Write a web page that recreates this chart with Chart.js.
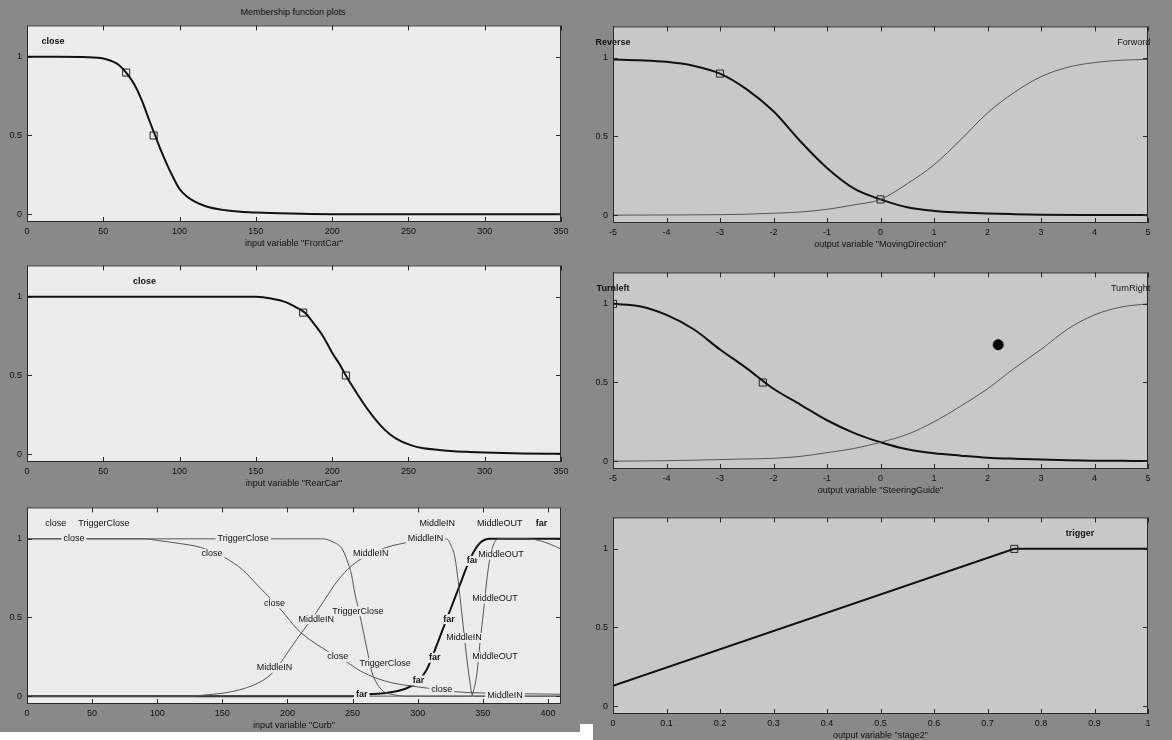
<!DOCTYPE html>
<html>
<head>
<meta charset="utf-8">
<title>Membership function plots</title>
<script src="https://cdn.jsdelivr.net/npm/chart.js@4.4.0/dist/chart.umd.min.js"></script>
<style>
  body { margin: 0; background: #fff; }
  #page { position: relative; width: 1172px; height: 740px; background: #898989; overflow: hidden;
          font-family: "Liberation Sans", Arial, sans-serif; }
  #page canvas { position: absolute; }
  .white { position: absolute; background: #fff; }
  .letter { position: absolute; width: 17px; height: 19px; background: #fff; color: #000; text-align: center;
            font: bold 20px "Liberation Serif", "Times New Roman", serif; line-height: 20px; }
  #title { position: absolute; left: 0; top: 7px; width: 586px; text-align: center; font-size: 9px; color: #111; }
</style>
</head>
<body>
<div id="page">
  <div class="white" style="left:0;top:732px;width:593px;height:8px"></div>
  <div class="white" style="left:580px;top:724px;width:13px;height:16px"></div>
  <div id="title">Membership function plots</div>
  <div class="letter" style="left:502px;top:112px">A</div>
  <div class="letter" style="left:510px;top:357px">B</div>
  <div class="letter" style="left:519px;top:601px">C</div>
  <div class="letter" style="left:1063px;top:119px">D</div>
  <div class="letter" style="left:1070px;top:367px">E</div>
  <div class="letter" style="left:1072px;top:610px">F</div>
</div>
<script>
// values

const yTicks = [0, 0.5, 1];

// A - input "FrontCar"
const carTicks = [0, 50, 100, 150, 200, 250, 300, 350];
const frontX = [0, 20, 40, 50, 55, 60, 65, 70, 75, 80, 84, 88, 92, 96, 100, 105, 110, 115, 120, 130, 140, 150, 165, 180, 200, 250, 300, 350];
const frontClose = [1, 1, 0.998, 0.99, 0.975, 0.95, 0.9, 0.83, 0.73, 0.6, 0.5, 0.4, 0.31, 0.23, 0.16, 0.11, 0.08, 0.058, 0.042, 0.025, 0.015, 0.01, 0.005, 0.002, 0, 0, 0, 0];
const frontMarkX = [65, 83];
const frontMarkY = [0.9, 0.5];

// B - input "RearCar"
const rearX = [0, 20, 50, 100, 140, 150, 160, 170, 176, 182, 188, 194, 200, 205, 209, 214, 220, 226, 232, 238, 245, 252, 260, 270, 280, 290, 300, 325, 350];
const rearClose = [1, 1, 1, 1, 1, 1, 0.99, 0.965, 0.935, 0.9, 0.83, 0.75, 0.645, 0.57, 0.5, 0.42, 0.33, 0.25, 0.18, 0.125, 0.083, 0.056, 0.037, 0.027, 0.019, 0.014, 0.01, 0.004, 0.002];
const rearMarkX = [181, 209];
const rearMarkY = [0.9, 0.5];

// C - input "Curb"
const curbTicks = [0, 50, 100, 150, 200, 250, 300, 350, 400];
const curbCloseX = [0, 90, 100, 115, 133, 152, 166, 176, 187, 196, 207, 217, 228, 238, 243, 256, 268, 281, 297, 318, 330, 350, 380, 410];
const curbCloseY = [1, 1, 0.99, 0.973, 0.946, 0.88, 0.8, 0.714, 0.62, 0.54, 0.43, 0.36, 0.3, 0.25, 0.23, 0.16, 0.115, 0.083, 0.062, 0.04, 0.027, 0.02, 0.015, 0.012];
const curbTrigX = [0, 200, 227, 235, 241.6, 245.5, 249.3, 251.8, 254.4, 257.5, 259.5, 262, 264.7, 268.5, 273.6, 281, 291.5, 410];
const curbTrigY = [1, 1, 1, 0.98, 0.94, 0.87, 0.766, 0.65, 0.56, 0.44, 0.36, 0.26, 0.155, 0.083, 0.031, 0.01, 0, 0];
const curbMidInX = [0, 129, 133, 158, 179, 190, 197, 207, 215, 222, 233, 240, 248, 256, 264, 276, 286, 297, 307, 322, 326, 328.6, 331, 333.8, 335.5, 338, 340, 341.4, 342.5, 410];
const curbMidInY = [0, 0, 0.004, 0.03, 0.09, 0.16, 0.24, 0.36, 0.45, 0.53, 0.67, 0.75, 0.82, 0.87, 0.905, 0.946, 0.967, 0.985, 0.997, 1, 0.95, 0.88, 0.735, 0.53, 0.4, 0.217, 0.093, 0.02, 0, 0];
const curbMidOutX = [0, 341.5, 343, 345.3, 347.8, 350.4, 353, 355.5, 359.3, 363, 385, 395, 402, 410];
const curbMidOutY = [0, 0, 0.04, 0.135, 0.34, 0.53, 0.735, 0.88, 0.983, 1, 1, 0.985, 0.965, 0.935];
const curbFarX = [0, 250, 257, 276, 291.5, 300, 307, 313, 319, 326, 332.5, 338, 342.5, 348, 355.5, 410];
const curbFarY = [0, 0, 0.01, 0.02, 0.05, 0.093, 0.17, 0.29, 0.42, 0.57, 0.71, 0.83, 0.91, 0.975, 1, 1];

// D - output "MovingDirection"
const fiveTicks = [-5, -4, -3, -2, -1, 0, 1, 2, 3, 4, 5];
const revX = [-5, -4.5, -4, -3.5, -3, -2.5, -2, -1.5, -1, -0.5, 0, 0.5, 1, 1.5, 2, 2.5, 3, 4, 5];
const revY = [0.99, 0.985, 0.975, 0.95, 0.9, 0.8, 0.66, 0.47, 0.3, 0.17, 0.1, 0.05, 0.027, 0.017, 0.01, 0.006, 0.003, 0.001, 0];
const fwdX = [-5, -4, -3, -2.5, -2, -1.5, -1, -0.5, 0, 0.5, 1, 1.5, 2, 2.5, 3, 3.5, 4, 4.5, 5];
const fwdY = [0, 0.001, 0.003, 0.006, 0.012, 0.02, 0.037, 0.065, 0.1, 0.2, 0.32, 0.48, 0.65, 0.78, 0.88, 0.94, 0.97, 0.985, 0.99];
const moveMarkX = [-3, 0];
const moveMarkY = [0.9, 0.1];

// E - output "SteeringGuide"
const steerX = [-5, -4.5, -4, -3.5, -3, -2.5, -2, -1.5, -1, -0.5, 0, 0.5, 1, 1.5, 2, 2.5, 3, 3.5, 4, 4.5, 5];
const turnLeft = [1, 0.985, 0.93, 0.84, 0.71, 0.59, 0.46, 0.36, 0.26, 0.18, 0.12, 0.075, 0.05, 0.035, 0.022, 0.015, 0.01, 0.006, 0.003, 0.002, 0.001];
const turnRight = [0, 0.001, 0.003, 0.006, 0.01, 0.014, 0.018, 0.03, 0.054, 0.08, 0.12, 0.17, 0.25, 0.35, 0.46, 0.59, 0.71, 0.84, 0.93, 0.98, 1];
const steerMarkX = [-5, -2.2];
const steerMarkY = [1, 0.5];
const steerDotX = [2.2];
const steerDotY = [0.74];

// F - output "stage2"
const stageTicks = [0, 0.1, 0.2, 0.3, 0.4, 0.5, 0.6, 0.7, 0.8, 0.9, 1];
const trigX = [0, 0.75, 1];
const trigY = [0.13, 1, 1];
const trigMarkX = [0.75];
const trigMarkY = [1];

// text on the plots: [text, x, y, bold, align, boxed]
const frontLabels = [['close', 17, 1.1, true]];
const rearLabels = [['close', 77, 1.1, true]];
const moveLabels = [['Reverse', -5, 1.1, true], ['Forword', 5.04, 1.1, false, 'right']];
const steerLabels = [['Turnleft', -5, 1.1, true], ['TurnRight', 5.04, 1.1, false, 'right']];
const stageLabels = [['trigger', 0.873, 1.1, true]];
const curbLabels = [
  ['close', 22, 1.1], ['TriggerClose', 59, 1.1], ['MiddleIN', 315, 1.1], ['MiddleOUT', 363, 1.1], ['far', 395, 1.1, true],
  ['close', 36, 1.0, false, 'center', true], ['TriggerClose', 166, 1.0, false, 'center', true],
  ['close', 142, 0.905, false, 'center', true], ['MiddleIN', 264, 0.905, false, 'center', true],
  ['MiddleIN', 306, 1.0, false, 'center', true], ['close', 190, 0.59, false, 'center', true],
  ['MiddleIN', 222, 0.49, false, 'center', true], ['TriggerClose', 254, 0.54, false, 'center', true],
  ['MiddleIN', 190, 0.18, false, 'center', true], ['close', 238.5, 0.25, false, 'center', true],
  ['TriggerClose', 275, 0.21, false, 'center', true],
  ['far', 300.5, 0.1, true, 'center', true], ['far', 313, 0.244, true, 'center', true],
  ['far', 324, 0.49, true, 'center', true], ['far', 342, 0.86, true, 'center', true],
  ['far', 257, 0.01, true, 'center', true], ['close', 318.4, 0.04, false, 'center', true],
  ['MiddleIN', 367, 0.004, false, 'center', true], ['MiddleIN', 335.5, 0.37, false, 'center', true],
  ['MiddleOUT', 364, 0.9, false, 'center', true], ['MiddleOUT', 359.3, 0.62, false, 'center', true],
  ['MiddleOUT', 359.3, 0.25, false, 'center', true]
];

const FONT = '"Liberation Sans", Arial, sans-serif';
const LIGHT = '#ececec';
const DARK = '#c8c8c8';

function pts(xs, ys) {
  return xs.map((x, i) => ({ x: x, y: ys[i] }));
}

// straight = plain polyline (the trapezoid in F), otherwise smoothed
function curve(xs, ys, thick, straight) {
  const ds = {
    data: pts(xs, ys),
    borderColor: thick ? '#111' : '#555',
    borderWidth: thick ? 2 : 1,
    pointRadius: 0,
    tension: 0,
    fill: false
  };
  if (!straight) ds.cubicInterpolationMode = 'monotone';
  return ds;
}

// the little open squares / dots the mf editor puts on the curves
function marks(xs, ys, filled) {
  return {
    data: pts(xs, ys),
    showLine: false,
    pointStyle: filled ? 'circle' : 'rect',
    pointRadius: 5,
    pointBackgroundColor: filled ? '#000' : 'rgba(0,0,0,0)',
    pointBorderColor: filled ? '#000' : '#222',
    pointBorderWidth: 1
  };
}

function makePanel(p) {
  const padL = 36, padT = 6, padR = 18, padB = 28;
  const l = p.box[0], t = p.box[1], r = p.box[2], b = p.box[3];
  const cv = document.createElement('canvas');
  cv.width = r - l + padL + padR;
  cv.height = b - t + padT + padB;
  cv.style.left = (l - padL) + 'px';
  cv.style.top = (t - padT) + 'px';
  document.getElementById('page').appendChild(cv);

  const deco = {
    id: 'deco',
    beforeDraw(chart) {
      const a = chart.chartArea, ctx = chart.ctx;
      ctx.save();
      ctx.fillStyle = p.bg;
      ctx.fillRect(a.left, a.top, a.right - a.left, a.bottom - a.top);
      ctx.restore();
    },
    afterDraw(chart) {
      const a = chart.chartArea, ctx = chart.ctx;
      const xs = chart.scales.x, ys = chart.scales.y;
      ctx.save();
      ctx.textBaseline = 'middle';
      p.labels.forEach(lb => {
        const txt = lb[0];
        ctx.font = (lb[3] ? 'bold ' : '') + '9px ' + FONT;
        ctx.textAlign = lb[4] || 'center';
        const px = xs.getPixelForValue(lb[1]);
        const py = ys.getPixelForValue(lb[2]);
        if (lb[5]) {
          const w = ctx.measureText(txt).width;
          ctx.fillStyle = p.bg;
          ctx.fillRect(px - w / 2 - 2, py - 5, w + 4, 10);
        }
        ctx.fillStyle = '#111';
        ctx.fillText(txt, px, py);
      });
      // box + inward ticks, matlab style
      ctx.strokeStyle = '#2a2a2a';
      ctx.lineWidth = 1;
      ctx.strokeRect(a.left + 0.5, a.top + 0.5, a.right - a.left - 1, a.bottom - a.top - 1);
      ctx.beginPath();
      p.xTicks.forEach(v => {
        const x = Math.round(xs.getPixelForValue(v)) + 0.5;
        ctx.moveTo(x, a.top); ctx.lineTo(x, a.top + 5);
        ctx.moveTo(x, a.bottom); ctx.lineTo(x, a.bottom - 5);
      });
      yTicks.forEach(v => {
        const y = Math.round(ys.getPixelForValue(v)) + 0.5;
        ctx.moveTo(a.left, y); ctx.lineTo(a.left + 5, y);
        ctx.moveTo(a.right, y); ctx.lineTo(a.right - 5, y);
      });
      ctx.stroke();
      ctx.restore();
    }
  };

  return new Chart(cv, {
    type: 'line',
    data: { datasets: p.datasets },
    options: {
      responsive: false,
      animation: false,
      devicePixelRatio: 1,
      layout: { padding: { top: padT, right: padR, left: 0, bottom: 0 } },
      plugins: { legend: { display: false }, tooltip: { enabled: false } },
      scales: {
        x: {
          type: 'linear',
          min: p.xMin,
          max: p.xMax,
          afterBuildTicks: s => { s.ticks = p.xTicks.map(v => ({ value: v })); },
          afterFit: s => { s.height = padB; },
          grid: { display: false, drawTicks: false },
          border: { display: false },
          ticks: { autoSkip: false, maxRotation: 0, padding: 4, color: '#111',
                   font: { size: 9, family: FONT }, callback: v => String(v) },
          title: { display: true, text: p.xTitle, color: '#111', font: { size: 9, family: FONT },
                   padding: { top: 0, bottom: 1 } }
        },
        y: {
          type: 'linear',
          min: -0.05,
          max: 1.2,
          afterBuildTicks: s => { s.ticks = yTicks.map(v => ({ value: v })); },
          afterFit: s => { s.width = padL; },
          grid: { display: false, drawTicks: false },
          border: { display: false },
          ticks: { padding: 5, color: '#111', font: { size: 9, family: FONT }, callback: v => String(v) }
        }
      }
    },
    plugins: [deco]
  });
}

makePanel({
  box: [27, 21, 561, 222], bg: LIGHT, xMin: 0, xMax: 350, xTicks: carTicks,
  xTitle: 'input variable "FrontCar"', labels: frontLabels,
  datasets: [curve(frontX, frontClose, true), marks(frontMarkX, frontMarkY)]
});

makePanel({
  box: [27, 261, 561, 462], bg: LIGHT, xMin: 0, xMax: 350, xTicks: carTicks,
  xTitle: 'input variable "RearCar"', labels: rearLabels,
  datasets: [curve(rearX, rearClose, true), marks(rearMarkX, rearMarkY)]
});

makePanel({
  box: [27, 503, 561, 704], bg: LIGHT, xMin: 0, xMax: 410, xTicks: curbTicks,
  xTitle: 'input variable "Curb"', labels: curbLabels,
  datasets: [
    curve(curbCloseX, curbCloseY, false),
    curve(curbTrigX, curbTrigY, false),
    curve(curbMidInX, curbMidInY, false),
    curve(curbMidOutX, curbMidOutY, false),
    curve(curbFarX, curbFarY, true)
  ]
});

makePanel({
  box: [613, 22, 1148, 223], bg: DARK, xMin: -5, xMax: 5, xTicks: fiveTicks,
  xTitle: 'output variable "MovingDirection"', labels: moveLabels,
  datasets: [curve(fwdX, fwdY, false), curve(revX, revY, true), marks(moveMarkX, moveMarkY)]
});

makePanel({
  box: [613, 268, 1148, 469], bg: DARK, xMin: -5, xMax: 5, xTicks: fiveTicks,
  xTitle: 'output variable "SteeringGuide"', labels: steerLabels,
  datasets: [curve(steerX, turnRight, false), curve(steerX, turnLeft, true),
             marks(steerMarkX, steerMarkY), marks(steerDotX, steerDotY, true)]
});

makePanel({
  box: [613, 513, 1148, 714], bg: DARK, xMin: 0, xMax: 1, xTicks: stageTicks,
  xTitle: 'output variable "stage2"', labels: stageLabels,
  datasets: [curve(trigX, trigY, true, true), marks(trigMarkX, trigMarkY)]
});
</script>
</body>
</html>
